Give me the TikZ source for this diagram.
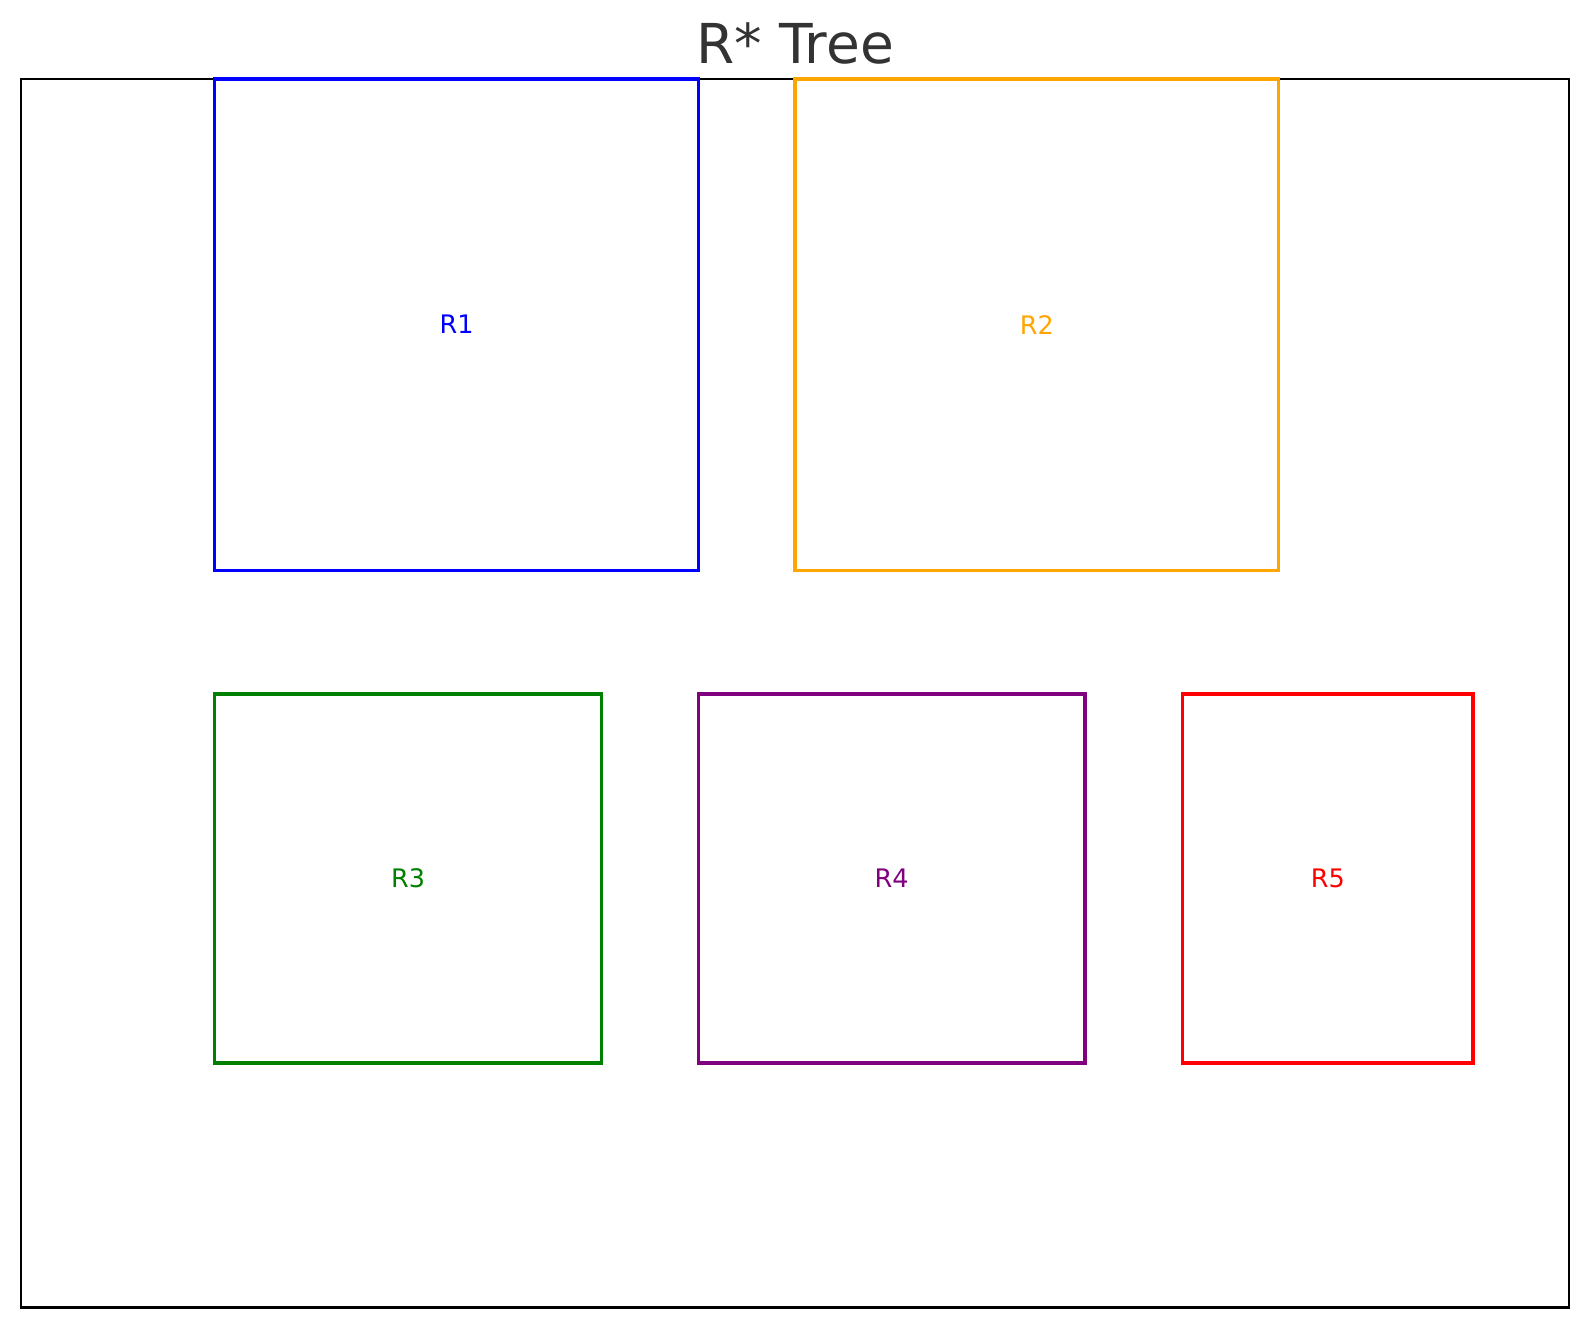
\documentclass[tikz,border=0pt]{standalone}
\usepackage{fontspec}
\setmainfont{DejaVu Sans}
\definecolor{mplblue}{HTML}{0000FF}
\definecolor{mplorange}{HTML}{FFA500}
\definecolor{mplgreen}{HTML}{008000}
\definecolor{mplpurple}{HTML}{800080}
\definecolor{mplred}{HTML}{FF0000}
\definecolor{titlegray}{HTML}{333333}
\begin{document}
\begin{tikzpicture}[x=1pt,y=-1pt,
  region/.style={draw=#1, text=#1, line width=3.4pt, rectangle, inner sep=0pt,
    font=\fontsize{25.5}{30}\selectfont},
  frame/.style={draw=black, line width=2.2pt, rectangle, inner sep=0pt}]
\useasboundingbox (0,0) rectangle (1589,1330);
\fill[white] (0,0) rectangle (1589,1330);
\node[frame, minimum width=1547.4pt, minimum height=1228.5pt] (frm) at (795,693.25) {};
\node[anchor=base, text=titlegray, font=\fontsize{55}{60}\selectfont] (title) at (795,63.3) {R* Tree};
\node[region=mplblue, minimum width=483.6pt, minimum height=491.4pt] (r1) at (456.5,324.7) {R1};
\node[region=mplorange, minimum width=483.6pt, minimum height=491.4pt] (r2) at (1036.8,324.7) {R2};
\node[region=mplgreen, minimum width=386.8pt, minimum height=369pt] (r3) at (408.1,878.6) {R3};
\node[region=mplpurple, minimum width=386.8pt, minimum height=369pt] (r4) at (891.7,878.6) {R4};
\node[region=mplred, minimum width=290.1pt, minimum height=369pt] (r5) at (1327.8,878.6) {R5};
\end{tikzpicture}
\end{document}
